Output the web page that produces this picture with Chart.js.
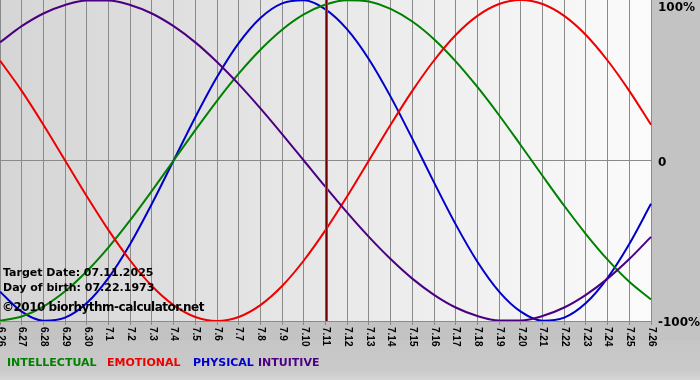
<!DOCTYPE html>
<html>
<head>
<meta charset="utf-8">
<script src="https://cdn.jsdelivr.net/npm/chart.js@4.4.1/dist/chart.umd.min.js"></script>
<style>
  html, body { margin: 0; padding: 0; background: #c3c3c3; }
  #wrap { width: 700px; height: 380px; position: relative; }
</style>
</head>
<body>
<div id="wrap"><canvas id="c" width="700" height="380"></canvas></div>
<script>
// ---- data ----
const dayLabels = ['6.26','6.27','6.28','6.29','6.30','7.1','7.2','7.3','7.4','7.5','7.6','7.7','7.8','7.9','7.10','7.11','7.12','7.13','7.14','7.15','7.16','7.17','7.18','7.19','7.20','7.21','7.22','7.23','7.24','7.25','7.26'];
const intellectual = [-99.9,-97.2,-91.0,-81.5,-69.0,-54.1,-37.2,-18.9,0,18.9,37.2,54.1,69.0,81.5,91.0,97.2,99.9,99.0,94.5,86.6,75.6,61.8,45.8,28.2,9.5,-9.5,-28.2,-45.8,-61.8,-75.6,-86.6];
const emotional = [62.3,43.4,22.3,0,-22.3,-43.4,-62.3,-78.2,-90.1,-97.5,-100,-97.5,-90.1,-78.2,-62.3,-43.4,-22.3,0,22.3,43.4,62.3,78.2,90.1,97.5,100,97.5,90.1,78.2,62.3,43.4,22.3];
const physical = [-81.7,-94.2,-99.8,-97.9,-88.8,-73.1,-52.0,-27.0,0,27.0,52.0,73.1,88.8,97.9,99.8,94.2,81.7,63.1,39.8,13.6,-13.6,-39.8,-63.1,-81.7,-94.2,-99.8,-97.9,-88.8,-73.1,-52.0,-27.0];
const intuitive = [73.6,83.7,91.6,96.9,99.7,99.7,96.9,91.6,83.7,73.6,61.4,47.6,32.5,16.5,0,-16.5,-32.5,-47.6,-61.4,-73.6,-83.7,-91.6,-96.9,-99.7,-99.7,-96.9,-91.6,-83.7,-73.6,-61.4,-47.6];
const seriesNames = ['INTELLECTUAL','EMOTIONAL','PHYSICAL','INTUITIVE'];
const seriesColors = ['#008000','#ee0000','#0000cc','#4b0082'];
const yTickLabels = {'100':'100%','0':'0','-100':'-100%'};
const targetDay = '7.11';
const infoLines = ['Target Date: 07.11.2025','Day of birth: 07.22.1973'];
const copyright = '\u00A92010 biorhythm-calculator.net';

const bgPlugin = {
  id: 'bg',
  beforeDraw(chart) {
    const {ctx, chartArea: a, width, height} = chart;
    ctx.save();
    ctx.fillStyle = '#c3c3c3';
    ctx.fillRect(0, 0, width, height);
    const vg = ctx.createLinearGradient(0, 340, 0, height);
    vg.addColorStop(0, '#c6c6c6');
    vg.addColorStop(0.75, '#c9c9c9');
    vg.addColorStop(1, '#d6d6d6');
    ctx.fillStyle = vg;
    ctx.fillRect(0, 340, width, height - 340);
    const g = ctx.createLinearGradient(a.left, 0, a.right, 0);
    g.addColorStop(0, '#d5d5d5');
    g.addColorStop(1, '#fbfbfb');
    ctx.fillStyle = g;
    ctx.fillRect(a.left, a.top, a.right - a.left, a.bottom - a.top);
    ctx.restore();
  }
};

const overlayPlugin = {
  id: 'overlay',
  afterDatasetsDraw(chart) {
    const {ctx, chartArea: a} = chart;
    const xs = chart.scales.x;
    const tx = Math.round(xs.getPixelForValue(dayLabels.indexOf(targetDay)));
    ctx.save();
    ctx.fillStyle = '#b04040';
    ctx.fillRect(tx - 1, a.top, 3, a.bottom - a.top);
    ctx.fillStyle = '#700000';
    ctx.fillRect(tx, a.top, 1, a.bottom - a.top);
    ctx.restore();
  },
  afterDraw(chart) {
    const {ctx, chartArea: a} = chart;
    const xs = chart.scales.x, ys = chart.scales.y;
    ctx.save();
    // x tick labels, rotated reading downward
    ctx.fillStyle = '#000';
    ctx.font = 'bold 10px "Liberation Sans"';
    ctx.textAlign = 'left';
    ctx.textBaseline = 'middle';
    dayLabels.forEach((lab, i) => {
      const x = xs.getPixelForValue(i);
      ctx.save();
      ctx.translate(x + 0.5, a.bottom + 6);
      ctx.rotate(Math.PI / 2);
      ctx.fillText(lab, 0, 0);
      ctx.restore();
    });
    // y labels
    ctx.font = 'bold 12px "DejaVu Sans"';
    ctx.textBaseline = 'alphabetic';
    Object.keys(yTickLabels).forEach(v => {
      const py = ys.getPixelForValue(Number(v));
      const base = Math.max(11, py + 5);
      ctx.fillText(yTickLabels[v], a.right + 7, base);
    });
    // info texts
    ctx.font = 'bold 11px "DejaVu Sans"';
    ctx.fillText(infoLines[0], 3, 276);
    ctx.fillText(infoLines[1], 3, 291);
    ctx.font = 'bold 12px "DejaVu Sans"';
    ctx.letterSpacing = '-0.5px';
    ctx.fillText(copyright, 2, 311);
    ctx.letterSpacing = '0px';
    // legend
    ctx.font = 'bold 11px "DejaVu Sans"';
    const lx = [7, 107, 193, 258];
    seriesNames.forEach((n, i) => {
      ctx.fillStyle = seriesColors[i];
      ctx.fillText(n, lx[i], 366);
    });
    ctx.restore();
  }
};

const mk = (label, data, color) => ({
  label, data, borderColor: color, borderWidth: 2, pointRadius: 0,
  fill: false, cubicInterpolationMode: 'monotone'
});

new Chart(document.getElementById('c'), {
  type: 'line',
  data: {
    labels: dayLabels,
    datasets: [
      mk(seriesNames[3], intuitive, seriesColors[3]),
      mk(seriesNames[1], emotional, seriesColors[1]),
      mk(seriesNames[0], intellectual, seriesColors[0]),
      mk(seriesNames[2], physical, seriesColors[2])
    ]
  },
  options: {
    responsive: false,
    animation: false,
    layout: { padding: { left: 0, top: 0, right: 49, bottom: 55 } },
    plugins: { legend: { display: false }, tooltip: { enabled: false } },
    scales: {
      x: {
        offset: false,
        ticks: { display: false },
        grid: { color: '#8a8a8a', drawTicks: true, tickLength: 4, lineWidth: 1 },
        border: { display: true, color: '#8a8a8a' }
      },
      y: {
        position: 'right',
        min: -100, max: 100,
        ticks: { display: false, stepSize: 100 },
        grid: {
          drawTicks: false,
          color: c => (c.tick && c.tick.value === 0) ? '#8a8a8a' : 'rgba(0,0,0,0)'
        },
        border: { display: false }
      }
    }
  },
  plugins: [bgPlugin, overlayPlugin]
});
</script>
</body>
</html>
